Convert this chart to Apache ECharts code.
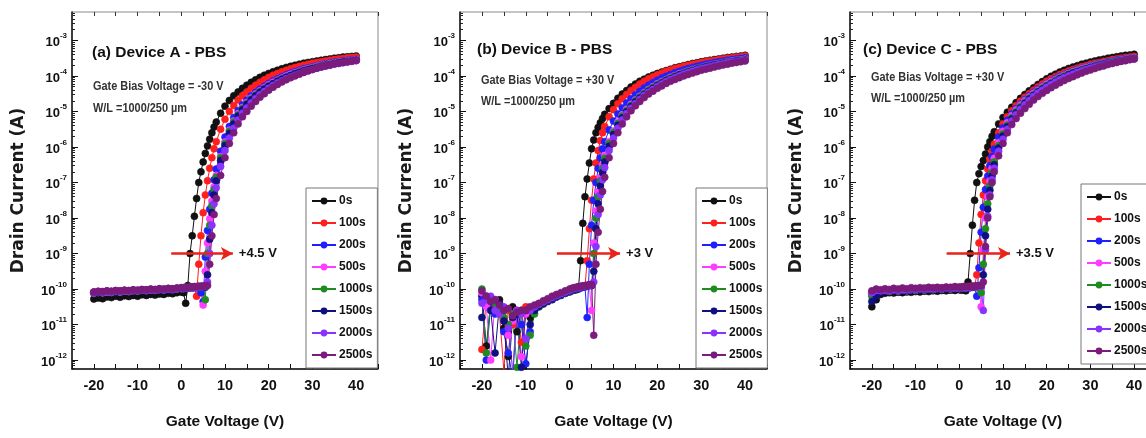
<!DOCTYPE html>
<html>
<head>
<meta charset="utf-8">
<script src="https://cdn.jsdelivr.net/npm/echarts@6.0.0/dist/echarts.min.js"></script>
<style>
  html, body { margin: 0; padding: 0; background: #fff; }
  #chart { width: 1146px; height: 438px; }
</style>
</head>
<body>
<div id="chart"></div>
<script>
// gate voltage sweep (V), shared by every curve
var gateV = [-20,-19,-18,-17,-16,-15,-14,-13,-12,-11,-10,-9,-8,-7,-6,-5,-4,-3,-2,-1,0,
  0.5,1,1.5,2,2.5,3,3.5,4,4.5,5,5.5,6,6.5,7,7.5,8,
  9,10,11,12,13,14,15,16,17,18,19,20,21,22,23,24,25,26,27,28,29,30,31,32,33,34,35,36,37,38,39,40];

var stressTimes = ['0s', '100s', '200s', '500s', '1000s', '1500s', '2000s', '2500s'];
var xTickLabels = [-20, -10, 0, 10, 20, 30, 40];
var yTickExp = [-12, -11, -10, -9, -8, -7, -6, -5, -4, -3];   // labels 10^n
var panelTitles = ['(a) Device A - PBS', '(b) Device B - PBS', '(c) Device C - PBS'];
var biasTexts = ['Gate Bias Voltage = -30 V', 'Gate Bias Voltage = +30 V', 'Gate Bias Voltage = +30 V'];
var wlText = 'W/L =1000/250 \u00b5m';
var shiftLabels = ['+4.5 V', '+3 V', '+3.5 V'];
var arrowFrom = [-2.3, -2.9, -2.9];
var arrowTo = [11.8, 11.5, 11.6];
var arrowLevel = -9;

// log10(drain current / A)
// device A
var a0s = [-10.28,-10.25,-10.27,-10.22,-10.24,-10.2,-10.23,-10.19,-10.21,-10.18,-10.2,-10.16,-10.18,-10.15,-10.17,-10.14,-10.15,-10.12,-10.13,-10.1,-10.08,
  -10.1,-10.4,-9.9,-9.0,-8.5,-7.95,-7.45,-7.0,-6.7,-6.42,-6.18,-5.97,-5.78,-5.6,-5.44,-5.3,
  -5.05,-4.85,-4.69,-4.56,-4.45,-4.35,-4.26,-4.18,-4.11,-4.04,-3.98,-3.93,-3.88,-3.84,-3.8,-3.76,-3.73,-3.7,-3.67,-3.64,-3.62,-3.6,-3.58,-3.56,-3.54,-3.52,-3.5,-3.49,-3.47,-3.46,-3.45,-3.44];
var a100s = [-10.1,-10.08,-10.09,-10.07,-10.08,-10.06,-10.07,-10.05,-10.06,-10.04,-10.05,-10.03,-10.04,-10.02,-10.03,-10.01,-10.02,-10.0,-10.01,-9.99,-9.98,
  -9.98,-9.97,-9.97,-9.96,-9.96,-9.95,-10.2,-9.3,-8.5,-7.85,-7.35,-6.95,-6.6,-6.3,-6.05,-5.85,
  -5.5,-5.22,-5.0,-4.83,-4.68,-4.56,-4.45,-4.35,-4.26,-4.18,-4.11,-4.04,-3.98,-3.93,-3.88,-3.84,-3.8,-3.76,-3.73,-3.7,-3.67,-3.64,-3.62,-3.6,-3.58,-3.56,-3.54,-3.52,-3.51,-3.49,-3.48,-3.47];
var a200s = [-10.12,-10.1,-10.11,-10.08,-10.1,-10.07,-10.09,-10.06,-10.07,-10.05,-10.06,-10.04,-10.05,-10.03,-10.04,-10.02,-10.03,-10.01,-10.02,-10.0,-9.99,
  -9.99,-9.98,-9.98,-9.97,-9.97,-9.96,-9.96,-9.95,-10.1,-10.35,-9.1,-8.35,-7.75,-7.3,-6.92,-6.62,
  -6.12,-5.72,-5.42,-5.17,-4.97,-4.81,-4.68,-4.56,-4.46,-4.37,-4.29,-4.21,-4.14,-4.08,-4.02,-3.97,-3.92,-3.88,-3.84,-3.8,-3.77,-3.74,-3.71,-3.68,-3.66,-3.63,-3.61,-3.59,-3.57,-3.56,-3.54,-3.53];
var a500s = [-10.11,-10.09,-10.1,-10.08,-10.09,-10.06,-10.08,-10.05,-10.07,-10.04,-10.05,-10.03,-10.04,-10.02,-10.03,-10.01,-10.02,-10.0,-10.01,-9.99,-9.98,
  -9.98,-9.97,-9.97,-9.96,-9.96,-9.95,-9.95,-9.94,-9.94,-10.45,-9.5,-8.7,-8.02,-7.52,-7.12,-6.8,
  -6.27,-5.86,-5.53,-5.27,-5.06,-4.89,-4.75,-4.62,-4.51,-4.42,-4.33,-4.25,-4.18,-4.12,-4.06,-4.0,-3.95,-3.91,-3.87,-3.83,-3.79,-3.76,-3.73,-3.7,-3.68,-3.65,-3.63,-3.61,-3.59,-3.57,-3.56,-3.54];
var a1000s = [-10.1,-10.09,-10.09,-10.07,-10.08,-10.06,-10.07,-10.05,-10.06,-10.04,-10.05,-10.03,-10.03,-10.02,-10.02,-10.01,-10.01,-10.0,-10.0,-9.99,-9.98,
  -9.98,-9.97,-9.97,-9.96,-9.96,-9.95,-9.95,-9.94,-9.94,-9.93,-10.3,-9.0,-8.2,-7.65,-7.2,-6.85,
  -6.3,-5.9,-5.56,-5.3,-5.09,-4.92,-4.78,-4.65,-4.54,-4.44,-4.36,-4.28,-4.21,-4.14,-4.08,-4.03,-3.98,-3.93,-3.89,-3.85,-3.81,-3.78,-3.75,-3.72,-3.69,-3.67,-3.64,-3.62,-3.6,-3.58,-3.57,-3.55];
var a1500s = [-10.09,-10.08,-10.08,-10.06,-10.07,-10.05,-10.06,-10.04,-10.05,-10.03,-10.04,-10.02,-10.03,-10.01,-10.02,-10.0,-10.01,-9.99,-10.0,-9.98,-9.97,
  -9.97,-9.96,-9.96,-9.95,-9.95,-9.94,-9.94,-9.93,-9.93,-9.93,-9.95,-9.6,-8.6,-7.85,-7.35,-6.95,
  -6.38,-5.96,-5.62,-5.35,-5.13,-4.95,-4.8,-4.67,-4.56,-4.46,-4.37,-4.29,-4.22,-4.15,-4.09,-4.04,-3.99,-3.94,-3.9,-3.86,-3.82,-3.79,-3.76,-3.73,-3.7,-3.68,-3.65,-3.63,-3.61,-3.59,-3.58,-3.56];
var a2000s = [-10.09,-10.07,-10.08,-10.06,-10.07,-10.05,-10.06,-10.04,-10.05,-10.03,-10.04,-10.02,-10.03,-10.01,-10.02,-10.0,-10.01,-9.99,-10.0,-9.98,-9.97,
  -9.97,-9.96,-9.96,-9.95,-9.95,-9.94,-9.94,-9.93,-9.93,-9.93,-9.92,-9.8,-9.0,-8.2,-7.6,-7.15,
  -6.55,-6.1,-5.75,-5.47,-5.24,-5.05,-4.9,-4.76,-4.64,-4.53,-4.44,-4.35,-4.27,-4.2,-4.14,-4.08,-4.03,-3.98,-3.94,-3.89,-3.85,-3.82,-3.78,-3.75,-3.72,-3.7,-3.67,-3.65,-3.63,-3.61,-3.59,-3.57];
var a2500s = [-10.08,-10.06,-10.07,-10.05,-10.06,-10.04,-10.05,-10.03,-10.04,-10.02,-10.03,-10.01,-10.02,-10.0,-10.01,-9.99,-10.0,-9.98,-9.99,-9.97,-9.96,
  -9.96,-9.95,-9.95,-9.94,-9.94,-9.93,-9.93,-9.92,-9.92,-9.91,-9.91,-9.9,-9.3,-8.5,-7.9,-7.45,
  -6.8,-6.3,-5.9,-5.6,-5.35,-5.15,-5.0,-4.85,-4.72,-4.6,-4.5,-4.4,-4.32,-4.24,-4.17,-4.11,-4.05,-4.0,-3.95,-3.9,-3.86,-3.82,-3.78,-3.75,-3.72,-3.69,-3.66,-3.64,-3.62,-3.6,-3.58,-3.56];

// device B
var b0s = [-10.2,-11.6,-10.4,-10.6,-10.3,-11.1,-11.9,-10.5,-11.2,-10.6,-12.3,-10.8,-10.55,-10.48,-10.42,-10.35,-10.3,-10.22,-10.18,-10.12,-10.08,
  -10.05,-10.03,-10.02,-10.0,-9.2,-8.15,-7.4,-6.9,-6.45,-6.05,-5.8,-5.6,-5.45,-5.32,-5.2,-5.08,
  -4.92,-4.77,-4.63,-4.51,-4.41,-4.31,-4.23,-4.15,-4.09,-4.03,-3.98,-3.93,-3.89,-3.85,-3.81,-3.77,-3.74,-3.71,-3.68,-3.65,-3.63,-3.6,-3.58,-3.56,-3.54,-3.52,-3.5,-3.48,-3.47,-3.45,-3.44,-3.42];
var b100s = [-11.7,-10.3,-10.5,-10.3,-10.7,-12.3,-10.6,-11.0,-10.6,-11.5,-10.5,-10.6,-10.55,-10.45,-10.38,-10.3,-10.25,-10.2,-10.15,-10.1,-10.05,
  -10.03,-10.0,-9.98,-9.96,-9.95,-9.93,-9.92,-9.2,-8.3,-7.5,-6.9,-6.45,-6.1,-5.82,-5.6,-5.42,
  -5.15,-4.95,-4.78,-4.64,-4.52,-4.41,-4.32,-4.23,-4.15,-4.08,-4.02,-3.97,-3.92,-3.87,-3.83,-3.79,-3.76,-3.73,-3.7,-3.67,-3.65,-3.62,-3.6,-3.58,-3.56,-3.54,-3.52,-3.5,-3.49,-3.47,-3.46,-3.44];
var b200s = [-10.3,-12.0,-10.4,-10.7,-10.5,-11.2,-11.8,-12.5,-10.7,-11.0,-12.1,-11.2,-10.6,-10.5,-10.4,-10.34,-10.28,-10.22,-10.17,-10.12,-10.07,
  -10.04,-10.02,-10.0,-9.98,-9.97,-9.95,-9.94,-10.8,-9.3,-8.2,-7.5,-7.0,-6.6,-6.3,-6.05,-5.85,
  -5.52,-5.27,-5.07,-4.9,-4.76,-4.64,-4.53,-4.43,-4.34,-4.26,-4.19,-4.12,-4.06,-4.01,-3.96,-3.91,-3.87,-3.83,-3.79,-3.76,-3.73,-3.7,-3.67,-3.65,-3.62,-3.6,-3.58,-3.56,-3.54,-3.52,-3.51,-3.49];
var b500s = [-10.1,-10.5,-12.0,-10.3,-10.5,-10.6,-11.3,-10.9,-10.6,-11.9,-10.7,-10.6,-10.5,-10.42,-10.36,-10.3,-10.25,-10.18,-10.13,-10.08,-10.03,
  -10.0,-9.98,-9.97,-9.95,-9.94,-9.92,-9.91,-9.9,-9.9,-10.6,-8.7,-7.8,-7.25,-6.85,-6.52,-6.25,
  -5.85,-5.55,-5.3,-5.1,-4.94,-4.8,-4.68,-4.57,-4.47,-4.38,-4.3,-4.22,-4.16,-4.1,-4.04,-3.99,-3.94,-3.9,-3.86,-3.82,-3.79,-3.76,-3.73,-3.7,-3.67,-3.65,-3.62,-3.6,-3.58,-3.56,-3.55,-3.53];
var b1000s = [-10.0,-11.8,-10.3,-10.4,-10.6,-10.8,-11.0,-10.7,-12.2,-10.6,-11.6,-11.3,-10.7,-10.5,-10.4,-10.32,-10.26,-10.2,-10.15,-10.1,-10.05,
  -10.02,-10.0,-9.98,-9.96,-9.95,-9.93,-9.92,-9.91,-9.9,-9.9,-9.0,-8.0,-7.4,-6.95,-6.6,-6.32,
  -5.9,-5.59,-5.34,-5.13,-4.97,-4.83,-4.7,-4.59,-4.49,-4.4,-4.32,-4.24,-4.18,-4.11,-4.06,-4.0,-3.96,-3.91,-3.87,-3.83,-3.8,-3.77,-3.74,-3.71,-3.68,-3.66,-3.63,-3.61,-3.59,-3.57,-3.56,-3.54];
var b1500s = [-10.8,-10.2,-10.6,-11.8,-10.4,-10.9,-12.5,-10.8,-10.7,-12.2,-10.6,-11.0,-10.6,-10.48,-10.4,-10.33,-10.27,-10.2,-10.15,-10.1,-10.05,
  -10.02,-10.0,-9.98,-9.96,-9.95,-9.93,-9.92,-9.91,-9.9,-9.9,-9.5,-8.3,-7.6,-7.1,-6.72,-6.42,
  -5.98,-5.65,-5.39,-5.18,-5.01,-4.86,-4.73,-4.62,-4.52,-4.43,-4.35,-4.27,-4.2,-4.13,-4.08,-4.02,-3.97,-3.93,-3.89,-3.85,-3.81,-3.78,-3.75,-3.72,-3.69,-3.67,-3.64,-3.62,-3.6,-3.58,-3.57,-3.55];
var b2000s = [-10.4,-10.3,-10.2,-10.6,-10.7,-10.5,-11.1,-12.3,-10.6,-10.7,-11.4,-10.6,-10.5,-10.43,-10.36,-10.3,-10.24,-10.18,-10.13,-10.08,-10.03,
  -10.0,-9.98,-9.97,-9.95,-9.94,-9.92,-9.91,-9.9,-9.89,-9.88,-9.8,-8.8,-7.9,-7.35,-6.92,-6.58,
  -6.1,-5.75,-5.47,-5.24,-5.06,-4.91,-4.78,-4.66,-4.55,-4.46,-4.38,-4.3,-4.23,-4.16,-4.1,-4.05,-4.0,-3.95,-3.91,-3.87,-3.83,-3.8,-3.77,-3.74,-3.71,-3.68,-3.66,-3.63,-3.61,-3.6,-3.58,-3.56];
var b2500s = [-10.05,-10.2,-10.35,-10.3,-10.45,-10.6,-10.55,-10.75,-10.65,-10.6,-10.6,-10.5,-10.45,-10.4,-10.33,-10.27,-10.2,-10.15,-10.1,-10.05,-10.0,
  -9.98,-9.96,-9.95,-9.93,-9.92,-9.91,-9.9,-9.89,-9.88,-9.87,-11.3,-9.3,-8.4,-7.75,-7.25,-6.85,
  -6.3,-5.9,-5.6,-5.35,-5.15,-4.98,-4.84,-4.72,-4.61,-4.51,-4.43,-4.35,-4.28,-4.21,-4.15,-4.1,-4.05,-4.0,-3.96,-3.92,-3.88,-3.84,-3.81,-3.78,-3.75,-3.72,-3.69,-3.67,-3.64,-3.62,-3.6,-3.58];

// device C
var c0s = [-10.5,-10.3,-10.15,-10.12,-10.1,-10.11,-10.09,-10.1,-10.08,-10.09,-10.07,-10.08,-10.06,-10.07,-10.05,-10.06,-10.04,-10.05,-10.03,-10.04,-10.02,
  -10.03,-10.02,-10.05,-9.8,-9.0,-8.2,-7.5,-7.0,-6.75,-6.55,-6.38,-6.2,-6.0,-5.85,-5.7,-5.57,
  -5.35,-5.17,-5.02,-4.88,-4.75,-4.63,-4.52,-4.42,-4.33,-4.24,-4.16,-4.08,-4.01,-3.95,-3.89,-3.84,-3.79,-3.75,-3.71,-3.67,-3.64,-3.61,-3.58,-3.55,-3.53,-3.5,-3.48,-3.46,-3.44,-3.42,-3.41,-3.39];
var c100s = [-10.1,-10.05,-10.07,-10.04,-10.06,-10.03,-10.05,-10.02,-10.04,-10.01,-10.03,-10.0,-10.02,-9.99,-10.01,-9.98,-10.0,-9.97,-9.99,-9.97,-9.98,
  -9.97,-9.96,-9.96,-9.95,-9.95,-9.94,-9.94,-9.6,-8.7,-7.9,-7.35,-6.95,-6.62,-6.35,-6.12,-5.92,
  -5.6,-5.35,-5.15,-4.98,-4.84,-4.71,-4.6,-4.5,-4.4,-4.31,-4.23,-4.15,-4.08,-4.02,-3.96,-3.91,-3.86,-3.82,-3.78,-3.74,-3.71,-3.67,-3.64,-3.62,-3.59,-3.57,-3.54,-3.52,-3.5,-3.48,-3.47,-3.45];
var c200s = [-10.15,-10.06,-10.08,-10.05,-10.07,-10.04,-10.06,-10.03,-10.05,-10.02,-10.04,-10.01,-10.03,-10.0,-10.02,-9.99,-10.01,-9.98,-10.0,-9.97,-9.99,
  -9.98,-9.97,-9.97,-9.96,-9.96,-9.95,-9.95,-10.2,-9.4,-8.4,-7.7,-7.2,-6.82,-6.52,-6.27,-6.06,
  -5.72,-5.46,-5.25,-5.07,-4.92,-4.79,-4.67,-4.56,-4.46,-4.37,-4.29,-4.21,-4.14,-4.07,-4.01,-3.96,-3.91,-3.86,-3.82,-3.78,-3.75,-3.71,-3.68,-3.65,-3.63,-3.6,-3.58,-3.55,-3.53,-3.51,-3.5,-3.48];
var c500s = [-10.12,-10.05,-10.07,-10.04,-10.06,-10.03,-10.05,-10.02,-10.04,-10.01,-10.03,-10.0,-10.02,-9.99,-10.01,-9.98,-10.0,-9.97,-9.99,-9.97,-9.98,
  -9.97,-9.96,-9.96,-9.95,-9.95,-9.94,-9.94,-9.94,-9.93,-10.5,-8.9,-8.0,-7.4,-6.95,-6.6,-6.32,
  -5.88,-5.56,-5.32,-5.12,-4.96,-4.82,-4.7,-4.59,-4.49,-4.4,-4.31,-4.23,-4.16,-4.1,-4.04,-3.98,-3.93,-3.88,-3.84,-3.8,-3.76,-3.73,-3.7,-3.67,-3.64,-3.62,-3.59,-3.57,-3.55,-3.53,-3.51,-3.49];
var c1000s = [-10.2,-10.08,-10.06,-10.05,-10.06,-10.03,-10.05,-10.02,-10.04,-10.01,-10.03,-10.0,-10.02,-9.99,-10.01,-9.98,-10.0,-9.97,-9.99,-9.96,-9.97,
  -9.97,-9.96,-9.96,-9.95,-9.95,-9.94,-9.94,-9.93,-9.93,-10.1,-9.3,-8.3,-7.6,-7.1,-6.72,-6.42,
  -5.96,-5.63,-5.38,-5.17,-5.0,-4.86,-4.74,-4.62,-4.52,-4.43,-4.34,-4.26,-4.19,-4.12,-4.06,-4.0,-3.95,-3.9,-3.86,-3.82,-3.78,-3.75,-3.71,-3.68,-3.66,-3.63,-3.6,-3.58,-3.56,-3.54,-3.52,-3.5];
var c1500s = [-10.35,-10.2,-10.1,-10.06,-10.05,-10.03,-10.04,-10.02,-10.03,-10.01,-10.02,-10.0,-10.01,-9.99,-10.0,-9.98,-9.99,-9.97,-9.98,-9.96,-9.97,
  -9.96,-9.96,-9.95,-9.95,-9.94,-9.94,-9.93,-9.93,-9.92,-9.92,-9.6,-8.5,-7.75,-7.22,-6.82,-6.5,
  -6.03,-5.69,-5.43,-5.21,-5.04,-4.9,-4.77,-4.65,-4.55,-4.45,-4.37,-4.29,-4.21,-4.15,-4.08,-4.03,-3.97,-3.92,-3.88,-3.84,-3.8,-3.76,-3.73,-3.7,-3.67,-3.64,-3.62,-3.59,-3.57,-3.55,-3.53,-3.51];
var c2000s = [-10.1,-10.04,-10.05,-10.03,-10.04,-10.02,-10.03,-10.01,-10.02,-10.0,-10.01,-9.99,-10.0,-9.98,-9.99,-9.97,-9.98,-9.96,-9.97,-9.95,-9.96,
  -9.96,-9.95,-9.95,-9.94,-9.94,-9.93,-9.93,-9.92,-9.92,-9.92,-10.6,-8.9,-7.95,-7.35,-6.92,-6.6,
  -6.12,-5.78,-5.5,-5.27,-5.09,-4.94,-4.81,-4.69,-4.58,-4.48,-4.4,-4.32,-4.24,-4.17,-4.11,-4.05,-4.0,-3.95,-3.9,-3.86,-3.82,-3.78,-3.75,-3.72,-3.69,-3.66,-3.63,-3.61,-3.58,-3.56,-3.54,-3.52];
var c2500s = [-10.05,-10.0,-10.02,-9.99,-10.01,-9.98,-10.0,-9.97,-9.99,-9.96,-9.98,-9.96,-9.97,-9.95,-9.96,-9.95,-9.96,-9.94,-9.95,-9.93,-9.94,
  -9.94,-9.93,-9.93,-9.92,-9.92,-9.92,-9.91,-9.91,-9.9,-9.9,-9.8,-8.8,-8.0,-7.4,-7.0,-6.7,
  -6.25,-5.9,-5.6,-5.37,-5.2,-5.05,-4.92,-4.8,-4.68,-4.58,-4.49,-4.41,-4.33,-4.26,-4.19,-4.13,-4.07,-4.02,-3.97,-3.92,-3.87,-3.83,-3.79,-3.75,-3.72,-3.68,-3.65,-3.62,-3.59,-3.57,-3.54,-3.52];

var deviceCurves = [
  [a0s, a100s, a200s, a500s, a1000s, a1500s, a2000s, a2500s],
  [b0s, b100s, b200s, b500s, b1000s, b1500s, b2000s, b2500s],
  [c0s, c100s, c200s, c500s, c1000s, c1500s, c2000s, c2500s]
];

var colors = ['#111111', '#ff1f1f', '#2020ff', '#ff3cff', '#1e8c1e', '#101080', '#8a33ff', '#7b1b7b'];
var FONT = "'Liberation Sans', Arial, sans-serif";

var layout = [
  { left: 72,  width: 306, legendLeft: 306,  legendTop: 188, titleX: 92,  textX: 93,  titleY: 53, biasY: 86, wlY: 108 },
  { left: 460, width: 307, legendLeft: 696,  legendTop: 188, titleX: 477, textX: 481, titleY: 50, biasY: 80, wlY: 101 },
  { left: 850, width: 306, legendLeft: 1081, legendTop: 184, titleX: 863, textX: 871, titleY: 50, biasY: 77, wlY: 98 }
];
var Y_MIN = -12.25, Y_MAX = -2.2;

// minor log ticks (2..9 x 10^n)
var minorTicks = [];
for (var n = -13; n <= -3; n++) {
  for (var k = 2; k <= 9; k++) {
    var t = n + Math.log10(k);
    if (t > Y_MIN && t < Y_MAX) minorTicks.push(t);
  }
}

function pairs(vals) {
  return vals.map(function (v, i) { return [gateV[i], v]; });
}

var grids = [], xAxes = [], yAxes = [], series = [], legends = [], graphics = [];

layout.forEach(function (L, p) {
  grids.push({
    left: L.left, top: 12, width: L.width, height: 357,
    show: true, borderColor: '#8a8a8a', borderWidth: 1,
    outerBoundsMode: 'none', containLabel: false
  });

  xAxes.push({
    gridIndex: p, type: 'value', min: -25, max: 45, interval: 5, position: 'bottom',
    axisLine: { show: true, onZero: false, lineStyle: { color: '#111', width: 1.5 } },
    axisTick: { show: true, inside: true, length: 5, lineStyle: { color: '#111', width: 1 } },
    axisLabel: {
      margin: 9, color: '#111', fontSize: 14.5, fontWeight: 'bold', fontFamily: FONT,
      formatter: function (v) { return xTickLabels.indexOf(v) >= 0 ? String(v) : ''; }
    },
    splitLine: { show: false },
    name: 'Gate Voltage (V)', nameLocation: 'middle', nameGap: 45,
    nameTextStyle: { color: '#111', fontSize: 15.5, fontWeight: 'bold', fontFamily: FONT }
  });
  xAxes.push({
    gridIndex: p, type: 'value', min: -25, max: 45, interval: 5, position: 'top',
    axisLine: { show: false, onZero: false },
    axisTick: { show: true, inside: true, length: 4, lineStyle: { color: '#333' } },
    axisLabel: { show: false }, splitLine: { show: false }
  });

  yAxes.push({
    gridIndex: p, type: 'value', min: Y_MIN, max: Y_MAX, position: 'left',
    axisLine: { show: true, onZero: false, lineStyle: { color: '#111', width: 1.5 } },
    axisTick: { show: true, inside: true, length: 6, customValues: yTickExp, lineStyle: { color: '#111' } },
    axisLabel: {
      customValues: yTickExp, margin: 5,
      formatter: function (v) { return '{b|10}{s|' + Math.round(v) + '}'; },
      rich: {
        b: { fontSize: 13, fontWeight: 'bold', fontFamily: FONT, color: '#111', lineHeight: 17, verticalAlign: 'bottom' },
        s: { fontSize: 8, fontWeight: 'bold', fontFamily: FONT, color: '#111', lineHeight: 17, verticalAlign: 'top' }
      }
    },
    splitLine: { show: false },
    name: 'Drain Current (A)', nameLocation: 'middle', nameGap: 45, nameRotate: 90,
    nameTextStyle: { color: '#1a1a1a', fontSize: 17, fontWeight: 'bold', fontFamily: "'DejaVu Sans', sans-serif" }
  });
  yAxes.push({
    gridIndex: p, type: 'value', min: Y_MIN, max: Y_MAX, position: 'left',
    axisLine: { show: false, onZero: false },
    axisTick: { show: true, inside: true, length: 3, customValues: minorTicks, lineStyle: { color: '#222' } },
    axisLabel: { show: false }, splitLine: { show: false }
  });

  deviceCurves[p].forEach(function (vals, s) {
    var item = {
      type: 'line', name: stressTimes[s],
      xAxisIndex: p * 2, yAxisIndex: p * 2,
      data: pairs(vals),
      symbol: 'circle', symbolSize: 7, showSymbol: true,
      lineStyle: { color: colors[s], width: 1 },
      itemStyle: { color: colors[s], borderColor: colors[s], borderWidth: 0.6 },
      animation: false, silent: true, clip: true
    };
    if (s === 7) {
      item.markLine = {
        silent: true, animation: false,
        symbol: ['none', 'arrow'], symbolSize: [10, 12],
        lineStyle: { color: '#e8231a', width: 2.5, type: 'solid' },
        label: {
          show: true, position: 'end', distance: 6, formatter: shiftLabels[p],
          color: '#111', fontSize: 13, fontWeight: 'bold', fontFamily: FONT
        },
        data: [[{ coord: [arrowFrom[p], arrowLevel] }, { coord: [arrowTo[p], arrowLevel] }]]
      };
    }
    series.push(item);
  });

  legends.push({
    data: stressTimes, orient: 'vertical', left: L.legendLeft, top: L.legendTop,
    itemWidth: 24, itemHeight: 6, itemGap: 8, padding: [6, 5, 6, 5],
    borderColor: '#777', borderWidth: 1, backgroundColor: '#fff',
    selectedMode: false,
    textStyle: { color: '#111', fontSize: 12, fontWeight: 'bold', fontFamily: FONT, padding: [0, 0, 0, -2], lineHeight: 14 }
  });

  graphics.push(
    { type: 'text', x: L.titleX, y: L.titleY, z: 10,
      style: { text: panelTitles[p], fill: '#111', font: 'bold 15.5px ' + FONT, verticalAlign: 'middle' } },
    { type: 'text', x: L.textX, y: L.biasY, z: 10, scaleX: 0.84,
      style: { text: biasTexts[p], fill: '#333', font: 'bold 13px ' + FONT, verticalAlign: 'middle' } },
    { type: 'text', x: L.textX, y: L.wlY, z: 10, scaleX: 0.84,
      style: { text: wlText, fill: '#333', font: 'bold 13px ' + FONT, verticalAlign: 'middle' } }
  );
});

var chart = echarts.init(document.getElementById('chart'), null, { renderer: 'canvas' });
chart.setOption({
  backgroundColor: '#fff',
  animation: false,
  grid: grids,
  xAxis: xAxes,
  yAxis: yAxes,
  legend: legends,
  graphic: graphics,
  series: series
});
</script>
</body>
</html>
